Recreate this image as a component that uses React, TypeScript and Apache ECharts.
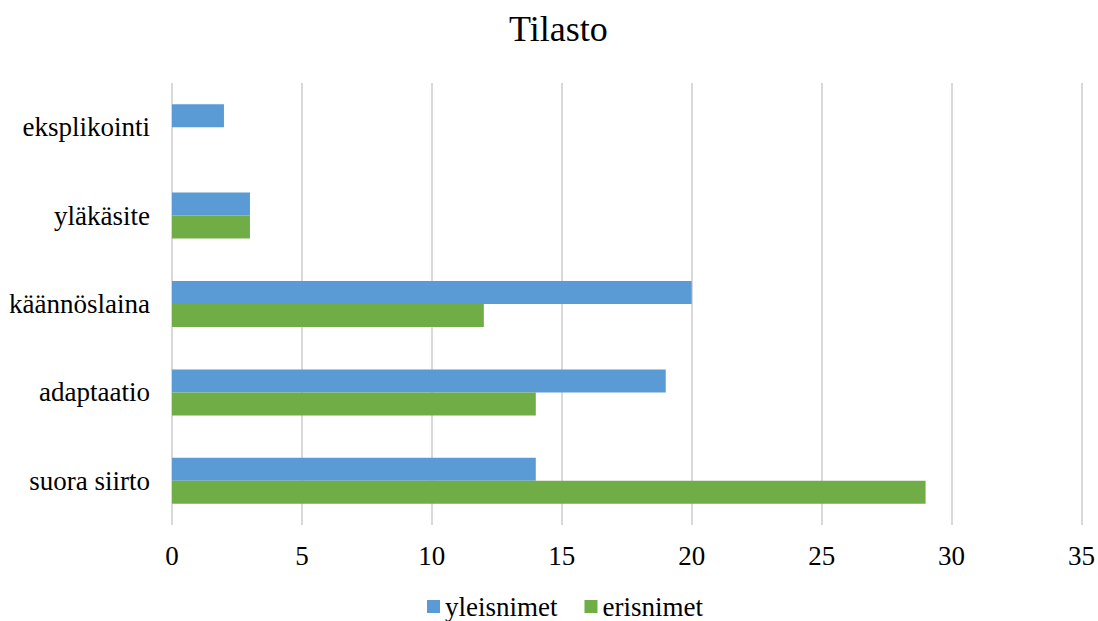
import React, { useEffect, useRef } from "react";
import * as echarts from "echarts";

const categories = ["suora siirto", "adaptaatio", "käännöslaina", "yläkäsite", "eksplikointi"];
const yleisnimet = [14, 19, 20, 3, 2];
const erisnimet = [29, 14, 12, 3, 0];

export default function App() {
  const ref = useRef<HTMLDivElement>(null);
  useEffect(() => {
    const chart = echarts.init(ref.current!, null, { renderer: "svg" });
    const font = "Liberation Serif";
    chart.setOption({
      animation: false,
      textStyle: { fontFamily: font },
      title: {
        text: "Tilasto",
        left: 504,
        top: 6,
        textStyle: { fontFamily: font, fontSize: 36, fontWeight: "normal", color: "#000" },
      },
      legend: {
        data: ["yleisnimet", "erisnimet"],
        top: 593,
        left: 427,
        itemWidth: 13,
        itemHeight: 13,
        itemGap: 27,
        icon: "rect",
        padding: 0,
        textStyle: { fontFamily: font, fontSize: 27, color: "#000", padding: [0, 0, 0, 0] },
      },
      grid: { left: 172, right: 12, top: 83, bottom: 96, containLabel: false },
      xAxis: {
        type: "value",
        min: 0,
        max: 35,
        interval: 5,
        axisLine: { show: false },
        axisTick: { show: false },
        axisLabel: { fontFamily: font, fontSize: 27, color: "#000", margin: 17 },
        splitLine: { lineStyle: { color: "#d9d9d9", width: 2 } },
      },
      yAxis: {
        type: "category",
        data: categories,
        axisLine: { show: false },
        axisTick: { show: false },
        axisLabel: { fontFamily: font, fontSize: 27, color: "#000", margin: 22 },
      },
      series: [
        {
          name: "yleisnimet",
          type: "bar",
          data: yleisnimet,
          itemStyle: { color: "#5B9BD5" },
          barGap: "0%",
          barCategoryGap: "48%",
        },
        {
          name: "erisnimet",
          type: "bar",
          data: erisnimet,
          itemStyle: { color: "#70AD47" },
          barGap: "0%",
          barCategoryGap: "48%",
        },
      ],
    });
    return () => chart.dispose();
  }, []);
  return <div ref={ref} style={{ width: 1098, height: 621, position: "absolute", left: 0, top: 0 }} />;
}
